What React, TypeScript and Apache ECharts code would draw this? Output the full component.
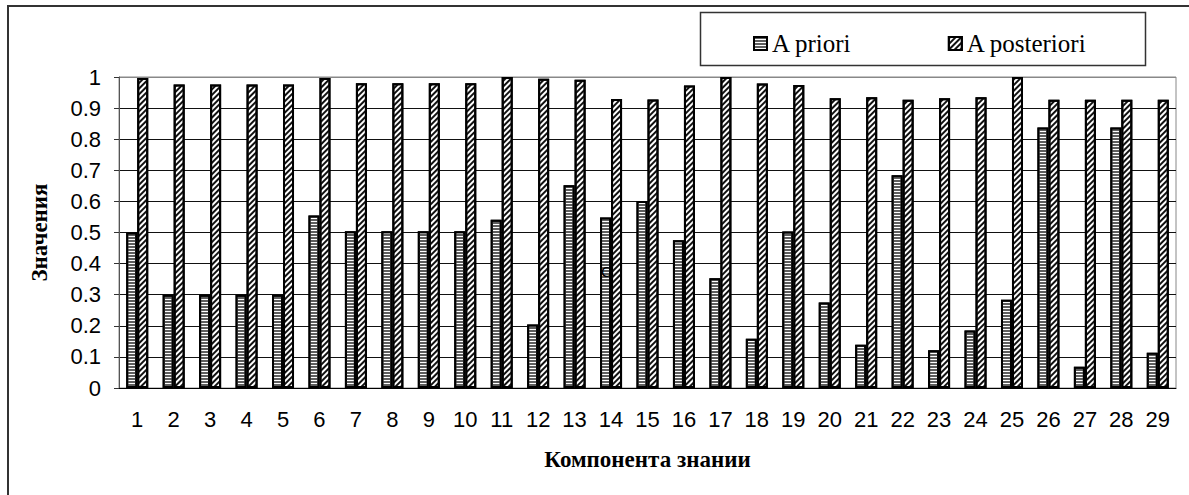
import React, { useEffect, useRef } from "react";
import * as echarts from "echarts";

const categories = ["1","2","3","4","5","6","7","8","9","10","11","12","13","14","15","16","17","18","19","20","21","22","23","24","25","26","27","28","29"];
const aPriori = [0.50,0.30,0.30,0.30,0.30,0.555,0.504,0.504,0.504,0.504,0.541,0.204,0.652,0.548,0.601,0.475,0.353,0.158,0.503,0.275,0.139,0.684,0.121,0.185,0.284,0.838,0.068,0.838,0.113];
const aPosteriori = [0.997,0.976,0.976,0.976,0.976,0.997,0.98,0.98,0.98,0.98,1.0,0.994,0.991,0.929,0.928,0.973,1.0,0.979,0.974,0.932,0.935,0.927,0.932,0.935,1.0,0.927,0.927,0.927,0.927];
const seriesNames = ["A priori", "A posteriori"];
const xTitle = "Компонента знании";
const yTitle = "Значения";

export default function App() {
  const ref = useRef<HTMLDivElement>(null);
  useEffect(() => {
    if (!ref.current) return;
    const chart = echarts.init(ref.current, null, { renderer: "svg" });
    const splitColors = Array(10).fill("#111").concat(["#888"]);
    chart.setOption({
      animation: false,
      backgroundColor: "#fff",
      grid: { left: 119, right: 13, top: 77, bottom: 107, show: true, borderColor: "#888", borderWidth: 1, backgroundColor: "transparent" },
      legend: {
        left: 748, top: 26, itemWidth: 13, itemHeight: 13, itemGap: 96,
        icon: "rect",
        textStyle: { fontFamily: "Liberation Serif", fontSize: 25, color: "#000" },
        data: seriesNames,
      },
      xAxis: {
        type: "category", data: categories,
        axisLine: { lineStyle: { color: "#000", width: 1 } },
        axisTick: { length: 6, lineStyle: { color: "#333" } },
        axisLabel: { interval: 0, fontFamily: "Liberation Sans", fontSize: 22, color: "#000", margin: 20 },
        name: xTitle, nameLocation: "middle", nameGap: 60,
        nameTextStyle: { fontFamily: "Liberation Serif", fontWeight: "bold", fontSize: 23, color: "#000" },
      },
      yAxis: {
        type: "value", min: 0, max: 1, interval: 0.1,
        axisLine: { show: true, lineStyle: { color: "#555", width: 1 } },
        axisTick: { show: true, length: 5, lineStyle: { color: "#333" } },
        axisLabel: { fontFamily: "Liberation Sans", fontSize: 22, color: "#000", margin: 18, formatter: (v: number) => String(+v.toFixed(1)) },
        splitLine: { lineStyle: { color: splitColors, width: 1 } },
        name: yTitle, nameLocation: "middle", nameGap: 68,
        nameTextStyle: { fontFamily: "Liberation Serif", fontWeight: "bold", fontSize: 23, color: "#000" },
      },
      series: [
        {
          name: seriesNames[0], type: "bar", data: aPriori, barWidth: 11, barGap: "0%",
          itemStyle: {
            color: "#fff", borderColor: "#000", borderWidth: 2,
            decal: { symbol: "rect", symbolSize: 1, color: "#5e5e5e", dashArrayX: [1, 0], dashArrayY: [2, 1], rotation: 0 },
          },
        },
        {
          name: seriesNames[1], type: "bar", data: aPosteriori, barWidth: 11, barGap: "0%",
          itemStyle: {
            color: "#fff", borderColor: "#000", borderWidth: 2,
            decal: { symbol: "rect", symbolSize: 1, color: "#111", dashArrayX: [1, 0], dashArrayY: [1.3, 1.5], rotation: -Math.PI / 4 },
          },
        },
      ],
      graphic: [
        { type: "rect", z: -1, shape: { x: 8, y: 6, width: 1400, height: 700 }, style: { fill: "none", stroke: "#333", lineWidth: 2 } },
        { type: "rect", z: -1, shape: { x: 700.5, y: 12.5, width: 445, height: 53 }, style: { fill: "#fff", stroke: "#333", lineWidth: 1.5 } },
        { type: "text", z: 100, x: 601, y: 264, style: { text: "C", fontFamily: "Liberation Sans", fontSize: 15, fill: "#000" } },
      ],
    });
    return () => chart.dispose();
  }, []);
  return <div ref={ref} style={{ position: "fixed", left: 0, top: 0, width: 1189, height: 495 }} />;
}
